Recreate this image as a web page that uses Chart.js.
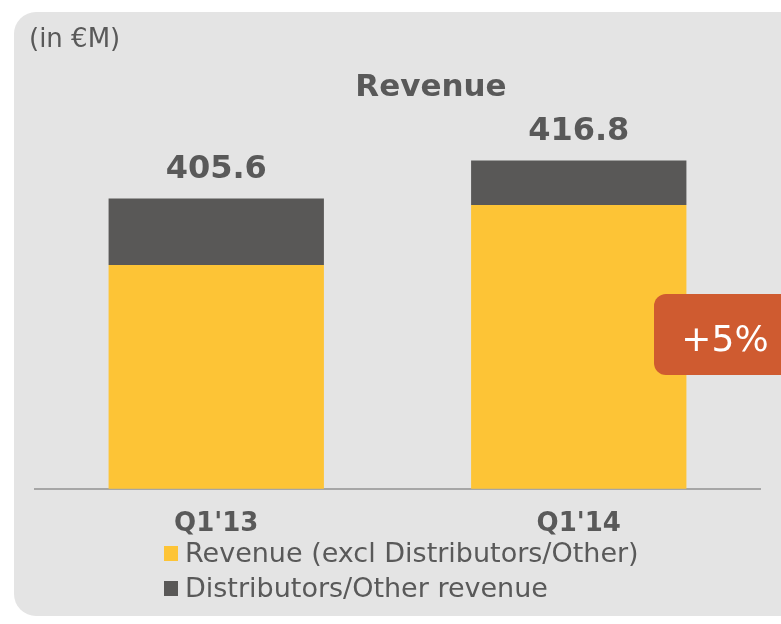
<!DOCTYPE html>
<html>
<head>
<meta charset="utf-8">
<script src="https://cdn.jsdelivr.net/npm/chart.js@4/dist/chart.umd.min.js"></script>
<style>
  html, body { margin: 0; padding: 0; background: #fff; }
  #wrap { position: relative; width: 781px; height: 624px; }
</style>
</head>
<body>
<div id="wrap"><canvas id="c" width="781" height="624"></canvas></div>
<script>
// values (€M)
const categories = ["Q1'13", "Q1'14"];
const coreRevenue = [386.0, 403.7];
const distributorsRevenue = [19.6, 13.1];
const seriesNames = ['Revenue (excl Distributors/Other)', 'Distributors/Other revenue'];
const growthLabel = '+5%';

const TEXT = '#595959';
const FONT = '"DejaVu Sans", Verdana, sans-serif';

const decor = {
    id: 'decor',
    beforeDraw(chart) {
        const ctx = chart.ctx;
        ctx.save();
        ctx.fillStyle = '#E4E4E4';
        ctx.beginPath();
        ctx.roundRect(14, 12, 800, 604, 22);
        ctx.fill();
        ctx.restore();
    },
    afterDraw(chart) {
        const ctx = chart.ctx;
        ctx.save();
        ctx.fillStyle = TEXT;
        ctx.textBaseline = 'middle';

        ctx.font = '26px ' + FONT;
        ctx.textAlign = 'left';
        ctx.fillText('(in €M)', 29, 40);

        ctx.font = 'bold 31px ' + FONT;
        ctx.textAlign = 'center';
        ctx.fillText('Revenue', 431, 88);

        // totals above stacks
        ctx.font = 'bold 32px ' + FONT;
        const top = chart.getDatasetMeta(1);
        top.data.forEach((bar, i) => {
            const total = coreRevenue[i] + distributorsRevenue[i];
            ctx.fillText(total.toFixed(1), bar.x, bar.y - 29);
        });

        // growth badge
        ctx.fillStyle = '#CF5B30';
        ctx.beginPath();
        ctx.roundRect(654, 294, 160, 81, 12);
        ctx.fill();
        ctx.fillStyle = '#fff';
        ctx.font = '36px ' + FONT;
        ctx.fillText(growthLabel, 725, 342);

        // legend
        ctx.font = '27px ' + FONT;
        ctx.textAlign = 'left';
        chart.data.datasets.forEach((ds, i) => {
            const y = 554 + i * 35;
            ctx.fillStyle = ds.backgroundColor;
            ctx.fillRect(164, y - 8, 14, 15);
            ctx.fillStyle = TEXT;
            ctx.fillText(ds.label, 185, y + 1);
        });
        ctx.restore();
    }
};

new Chart(document.getElementById('c'), {
    type: 'bar',
    data: {
        labels: categories,
        datasets: [
            { label: seriesNames[0], data: coreRevenue, backgroundColor: '#FDC436' },
            { label: seriesNames[1], data: distributorsRevenue, backgroundColor: '#595857' }
        ]
    },
    options: {
        responsive: false,
        animation: false,
        layout: { padding: { left: 35, right: 21, top: 48, bottom: 72 } },
        datasets: { bar: { categoryPercentage: 1, barPercentage: 0.594 } },
        scales: {
            x: {
                stacked: true,
                grid: { display: false },
                border: { display: true, color: '#A6A6A6', width: 2 },
                ticks: { color: TEXT, font: { family: FONT, size: 26, weight: 'bold' }, padding: 12 }
            },
            y: { stacked: true, display: false, min: 320, max: 450 }
        },
        plugins: {
            legend: { display: false },
            tooltip: { enabled: false }
        }
    },
    plugins: [decor]
});
</script>
</body>
</html>
